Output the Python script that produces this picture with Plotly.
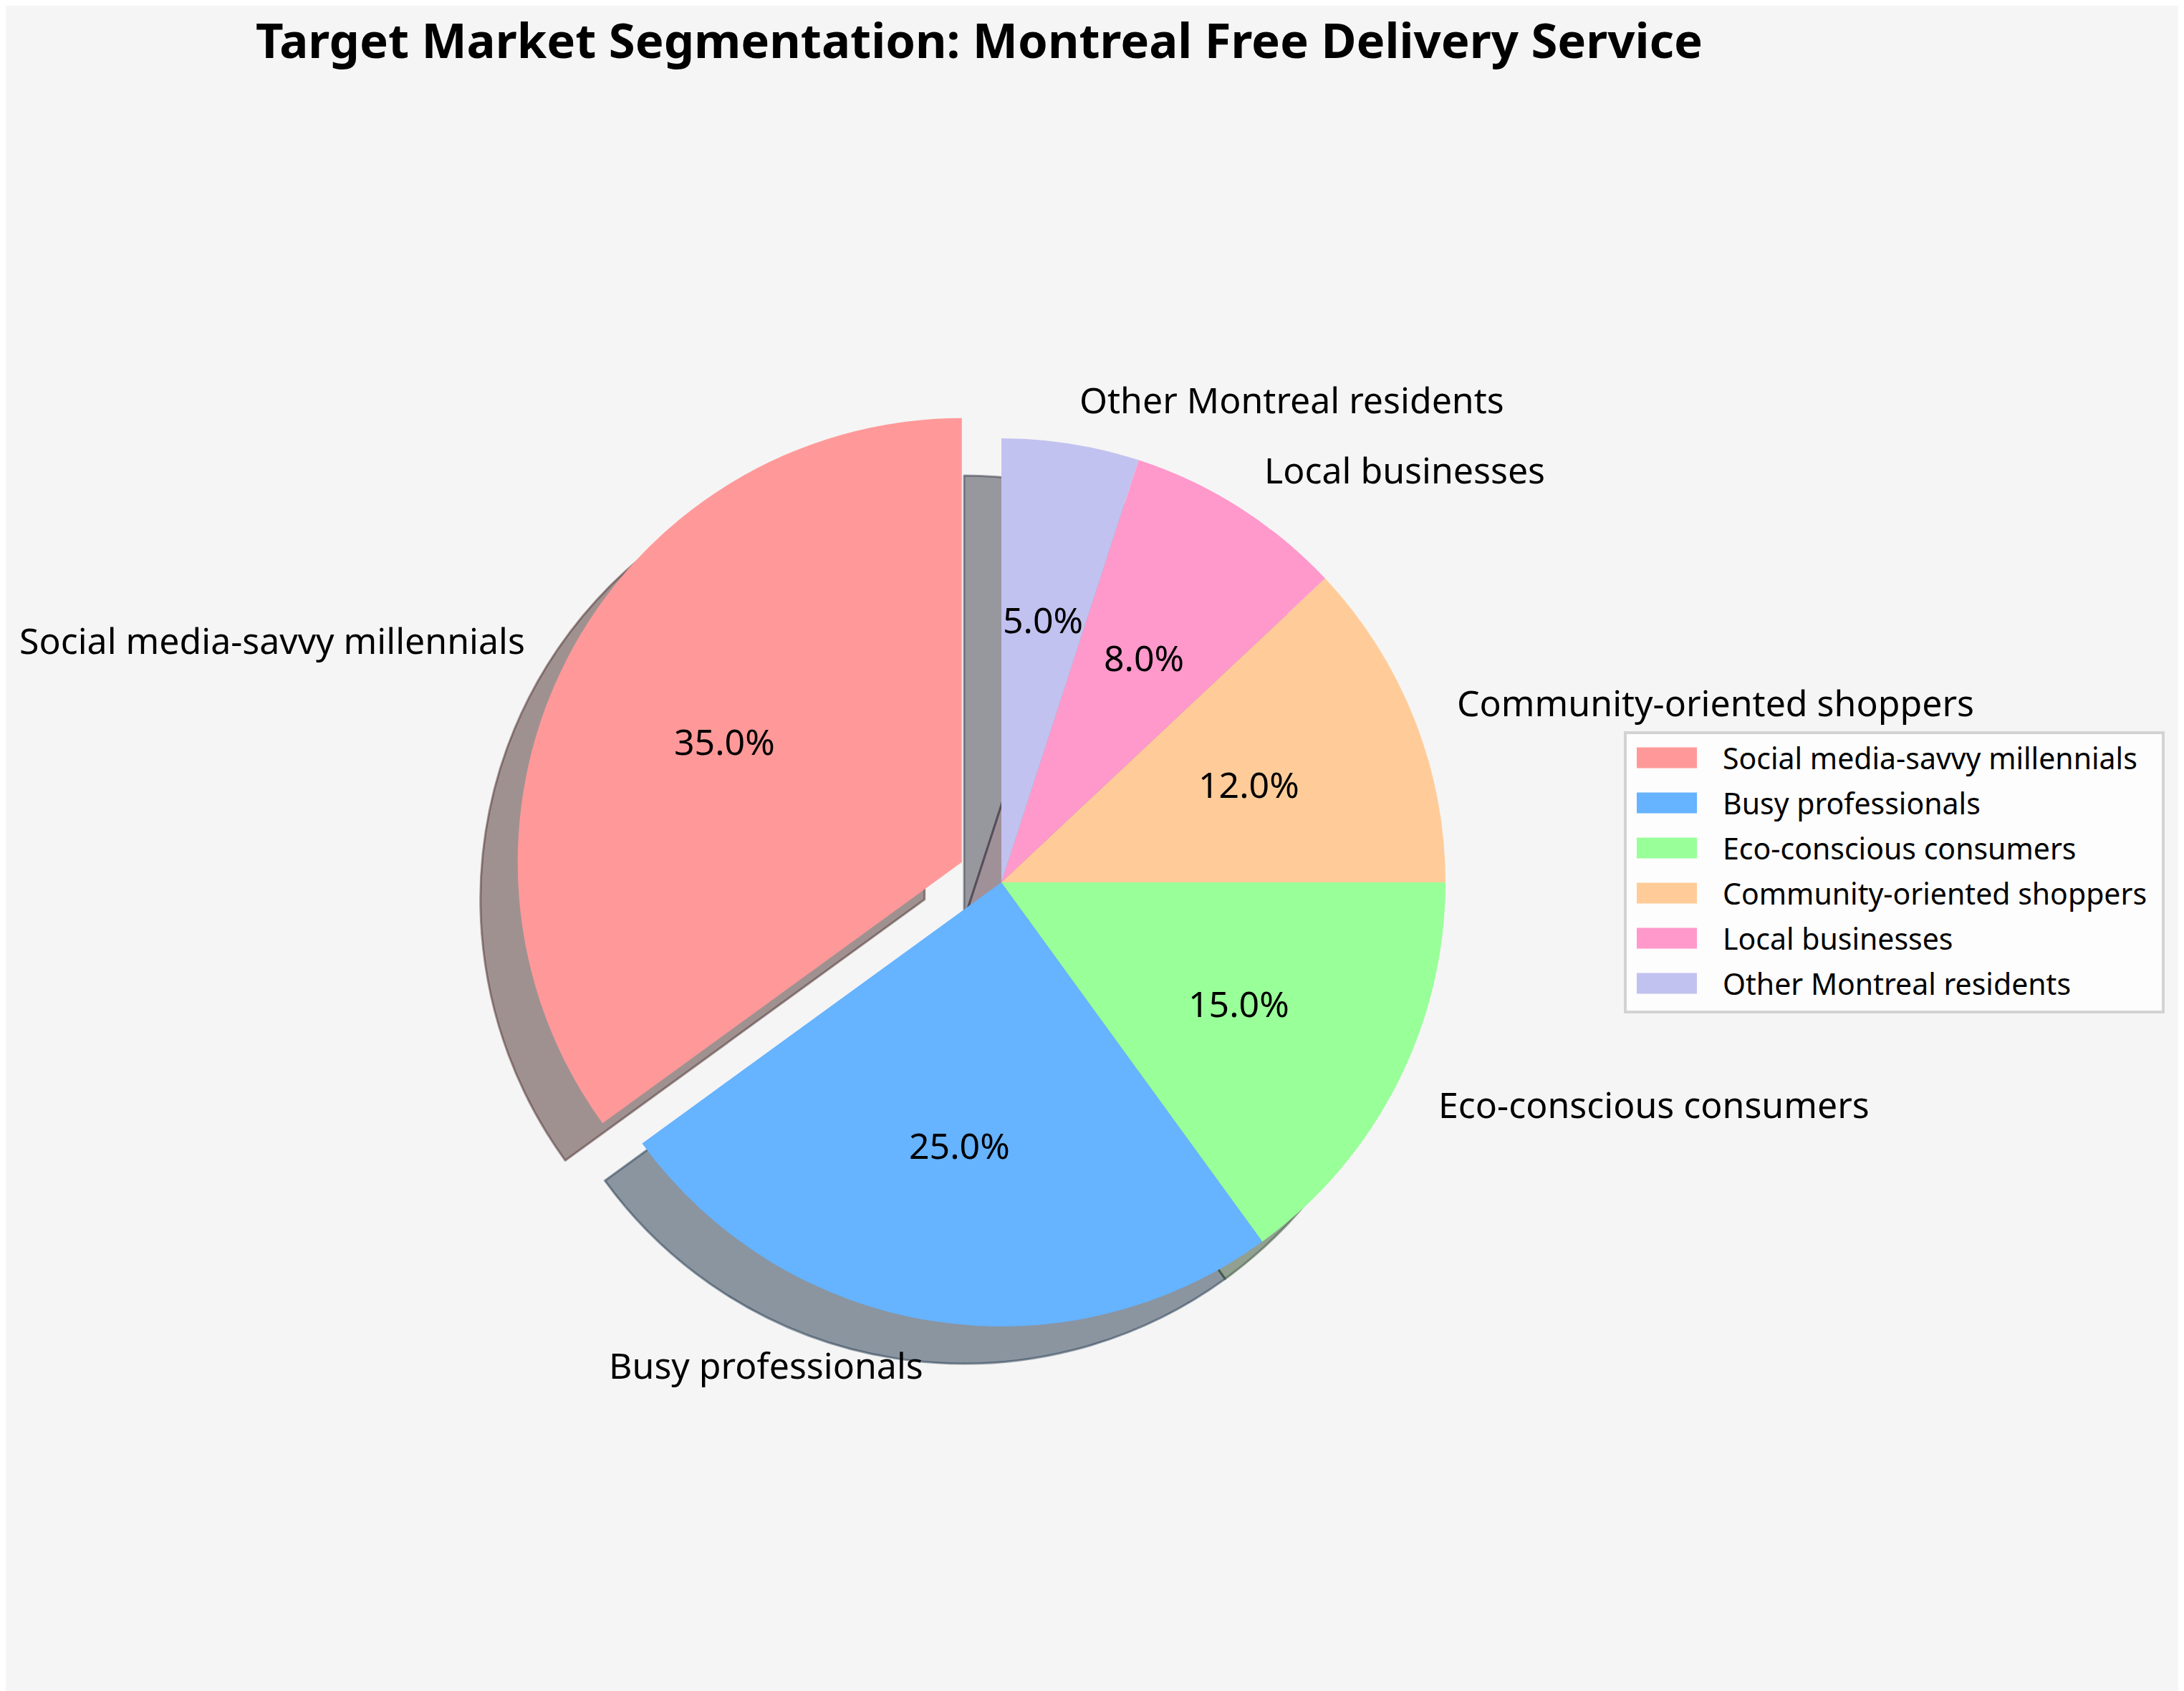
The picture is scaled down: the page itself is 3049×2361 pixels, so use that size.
import math
import plotly.graph_objects as go

# data
segments = ["Social media-savvy millennials", "Busy professionals", "Eco-conscious consumers",
            "Community-oriented shoppers", "Local businesses", "Other Montreal residents"]
shares = [35, 25, 15, 12, 8, 5]
explode = [0.1, 0, 0, 0, 0, 0]
colors = ["#FF9999", "#66B3FF", "#99FF99", "#FFCC99", "#FF99CC", "#C2C2F0"]

W, H = 3049, 2361
OFF = 8                              # page body margin
CX, CY, R = 1398 - OFF, 1232 - OFF, 620   # pie centre / radius in pixels
SHADOW = 52                          # shadow offset in pixels
FONT = "Noto Sans"

total = sum(shares)
# first slice starts at 12 o'clock and runs counterclockwise
rotation = -360.0 * shares[0] / total

half = R * (1 + max(explode))
dom_x = [(CX - half) / W, (CX + half) / W]
dom_y = [1 - (CY + half) / H, 1 - (CY - half) / H]
sdx, sdy = SHADOW / W, SHADOW / H


def hex_rgb(h):
    h = h.lstrip("#")
    return [int(h[i:i + 2], 16) for i in (0, 2, 4)]


def px_x(v):
    return (v - OFF) / W


def px_y(v):
    return 1 - (v - OFF) / H


shadow_fill = ["rgba({},{},{},0.5)".format(*[round(0.3 * c) for c in hex_rgb(col)]) for col in colors]

fig = go.Figure()

# shadow pie (drawn first, below)
fig.add_trace(go.Pie(
    labels=segments, values=shares, pull=explode, sort=False, direction="counterclockwise",
    rotation=rotation,
    marker=dict(colors=shadow_fill, line=dict(color=shadow_fill, width=3)),
    textinfo="none", hoverinfo="skip", showlegend=False,
    domain=dict(x=[dom_x[0] - sdx, dom_x[1] - sdx], y=[dom_y[0] - sdy, dom_y[1] - sdy]),
))

fig.add_trace(go.Pie(
    labels=segments, values=shares, pull=explode, sort=False, direction="counterclockwise",
    rotation=rotation, showlegend=False,
    marker=dict(colors=colors, line=dict(width=0)),
    textinfo="none", hovertemplate="%{label}: %{percent:.1%}<extra></extra>",
    domain=dict(x=dom_x, y=dom_y),
))

# labels (1.1 r) and percentages (0.6 r), placed like matplotlib's pie
start = 90.0
for lab, val, ex in zip(segments, shares, explode):
    span = 360.0 * val / total
    mid = math.radians(start + span / 2)
    start += span
    ox, oy = CX + ex * R * math.cos(mid), CY - ex * R * math.sin(mid)
    lx, ly = ox + 1.1 * R * math.cos(mid), oy - 1.1 * R * math.sin(mid)
    fig.add_annotation(x=lx / W, y=1 - ly / H, xref="paper", yref="paper", text=lab,
                       showarrow=False, xanchor="left" if math.cos(mid) > 0 else "right",
                       yanchor="middle", font=dict(family=FONT, size=50, color="black"))
    px, py = ox + 0.6 * R * math.cos(mid), oy - 0.6 * R * math.sin(mid)
    fig.add_annotation(x=px / W, y=1 - py / H, xref="paper", yref="paper",
                       text="{:.1f}%".format(100.0 * val / total),
                       showarrow=False, xanchor="center", yanchor="middle",
                       font=dict(family=FONT, size=50, color="black"))

# legend box (matplotlib style: wide colour patches)
LX0, LX1, LY0, LY1 = 2269, 3020, 1023, 1413
ROW0, ROW_STEP = 1058, 63
fig.add_shape(type="rect", xref="paper", yref="paper",
              x0=px_x(LX0), x1=px_x(LX1), y0=px_y(LY1), y1=px_y(LY0),
              fillcolor="#FDFDFD", line=dict(color="#D3D3D3", width=4), layer="above")
for i, (lab, col) in enumerate(zip(segments, colors)):
    yc = ROW0 + ROW_STEP * i
    fig.add_shape(type="rect", xref="paper", yref="paper",
                  x0=px_x(2285), x1=px_x(2369), y0=px_y(yc + 14.5), y1=px_y(yc - 14.5),
                  fillcolor=col, line=dict(width=0), layer="above")
    fig.add_annotation(x=px_x(2403), y=px_y(yc), xref="paper", yref="paper", text=lab,
                       showarrow=False, xanchor="left", yanchor="middle",
                       font=dict(family=FONT, size=41, color="black"))

fig.update_layout(
    width=W, height=H,
    paper_bgcolor="#F5F5F5", plot_bgcolor="#F5F5F5",
    margin=dict(l=0, r=0, t=0, b=0, pad=0),
    title=dict(text="<b>Target Market Segmentation: Montreal Free Delivery Service</b>",
               x=px_x(1367), y=px_y(58), xanchor="center", yanchor="middle",
               font=dict(family=FONT, size=67, color="black")),
    showlegend=False,
    font=dict(family=FONT),
)

fig.write_html("out.html")
